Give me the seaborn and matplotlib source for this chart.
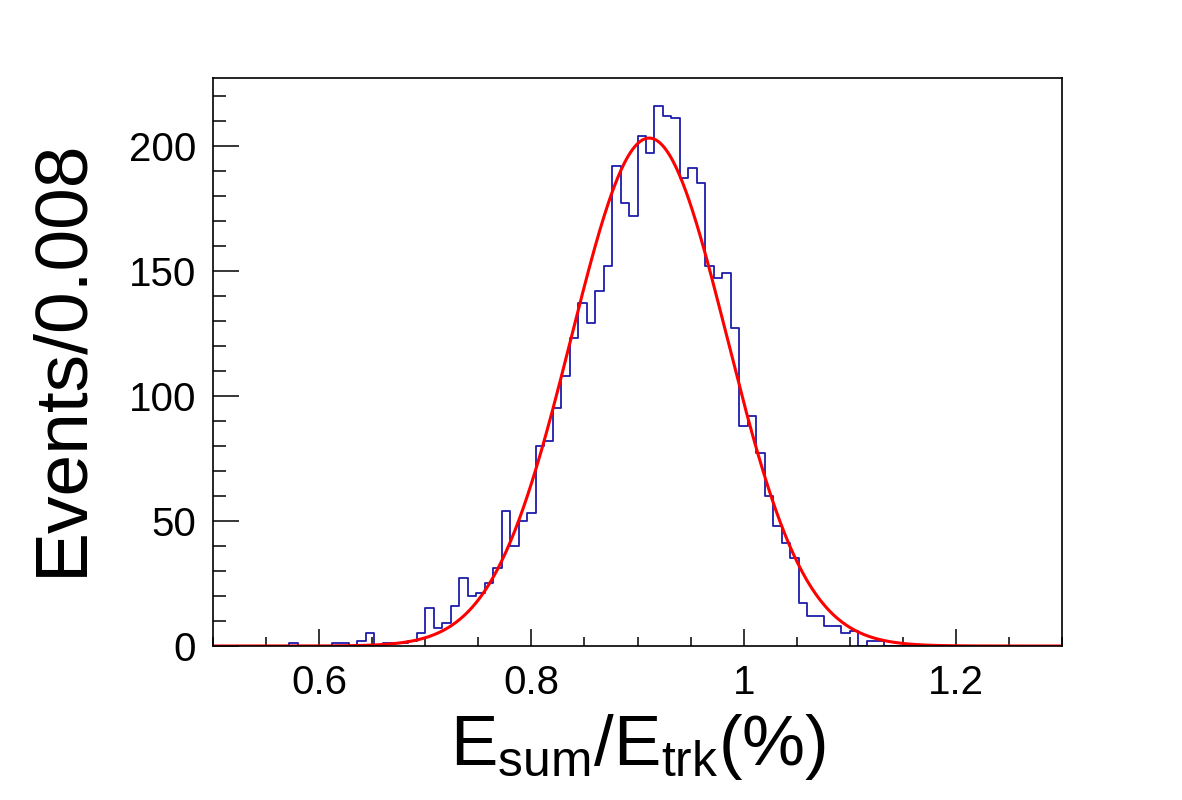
import numpy as np
import pandas as pd
import matplotlib
matplotlib.use("Agg")
import matplotlib.pyplot as plt
import seaborn as sns
from matplotlib.ticker import MultipleLocator, FuncFormatter

# Style
sns.set_style("white")
plt.rcParams['font.family'] = ['Liberation Sans', 'DejaVu Sans']
plt.rcParams['mathtext.fontset'] = 'custom'
plt.rcParams['mathtext.rm'] = 'Liberation Sans'
plt.rcParams['mathtext.it'] = 'Liberation Sans'
plt.rcParams['text.color'] = 'black'
plt.rcParams['xtick.color'] = 'black'
plt.rcParams['ytick.color'] = 'black'

# 1. Histogram data (100 bins of width 0.008 between 0.5 and 1.3)
x_min, x_max, n_bins = 0.5, 1.3, 100
counts = [
    0, 0, 0, 0, 0, 0, 0, 0, 0, 1,
    0, 0, 0, 0, 1, 1, 0, 2, 5, 0,
    1, 1, 1, 2, 5, 15, 7, 9, 16, 27,
    20, 21, 25, 31, 54, 40, 50, 53, 80, 82,
    95, 108, 123, 137, 129, 142, 152, 192, 177, 172,
    204, 197, 216, 212, 211, 187, 191, 185, 152, 147,
    149, 127, 88, 92, 77, 60, 48, 41, 35, 17,
    12, 12, 8, 8, 5, 6, 0, 2, 2, 0,
    0, 0, 0, 0, 0, 0, 0, 0, 0, 0,
    0, 0, 0, 0, 0, 0, 0, 0, 0, 0,
]

# Gaussian fit parameters
fit_amp = 203.0
fit_mean = 0.911
fit_sigma = 0.0735

edges = np.linspace(x_min, x_max, n_bins + 1).tolist()
centers = [0.5 * (a + b) for a, b in zip(edges[:-1], edges[1:])]
df = pd.DataFrame({'x': centers, 'n': counts})

# 2. Figure
fig = plt.figure(figsize=(11.82, 8.0), dpi=100)
ax = fig.add_axes([213 / 1182, 1 - 646 / 800, 849 / 1182, 568 / 800])

sns.histplot(
    data=df, x='x', weights='n', bins=edges,
    element='step', fill=False, color='#1c1caa', linewidth=1.3, ax=ax
)

xf = np.linspace(x_min, x_max, 800)
yf = fit_amp * np.exp(-0.5 * ((xf - fit_mean) / fit_sigma) ** 2)
sns.lineplot(x=xf, y=yf, color='#ff0000', linewidth=2.2, ax=ax)

# 3. Axes configuration (ROOT look)
ax.set_xlim(x_min, x_max)
ax.set_ylim(0, 227)
ax.set_xlabel('')
ax.set_ylabel('')

ax.xaxis.set_major_locator(MultipleLocator(0.2))
ax.xaxis.set_minor_locator(MultipleLocator(0.05))
ax.yaxis.set_major_locator(MultipleLocator(50))
ax.yaxis.set_minor_locator(MultipleLocator(10))
ax.xaxis.set_major_formatter(FuncFormatter(lambda v, p: f'{v:g}'))
ax.yaxis.set_major_formatter(FuncFormatter(lambda v, p: f'{v:g}'))

ax.tick_params(axis='both', which='both', direction='in', color='black',
               labelcolor='black', width=1.1, bottom=True, left=True,
               top=False, right=False, labelsize=29)
ax.tick_params(axis='x', which='major', length=12.5, pad=13)
ax.tick_params(axis='x', which='minor', length=6.5)
ax.tick_params(axis='y', which='major', length=18.5, pad=12)
ax.tick_params(axis='y', which='minor', length=9.5)

for side in ['left', 'right', 'top', 'bottom']:
    ax.spines[side].set_visible(True)
    ax.spines[side].set_color('black')
    ax.spines[side].set_linewidth(1.2)

# Axis titles
fig.text(62 / 1182, 1 - 357 / 800, 'Events/0.008', rotation=90,
         ha='center', va='center', fontsize=54, color='black')
fig.text(638 / 1182, 1 - 765 / 800,
         r'$\mathregular{E_{sum}/E_{trk}(\%)}$',
         ha='center', va='baseline', fontsize=51, color='black')

plt.savefig('out.png', dpi=100)
